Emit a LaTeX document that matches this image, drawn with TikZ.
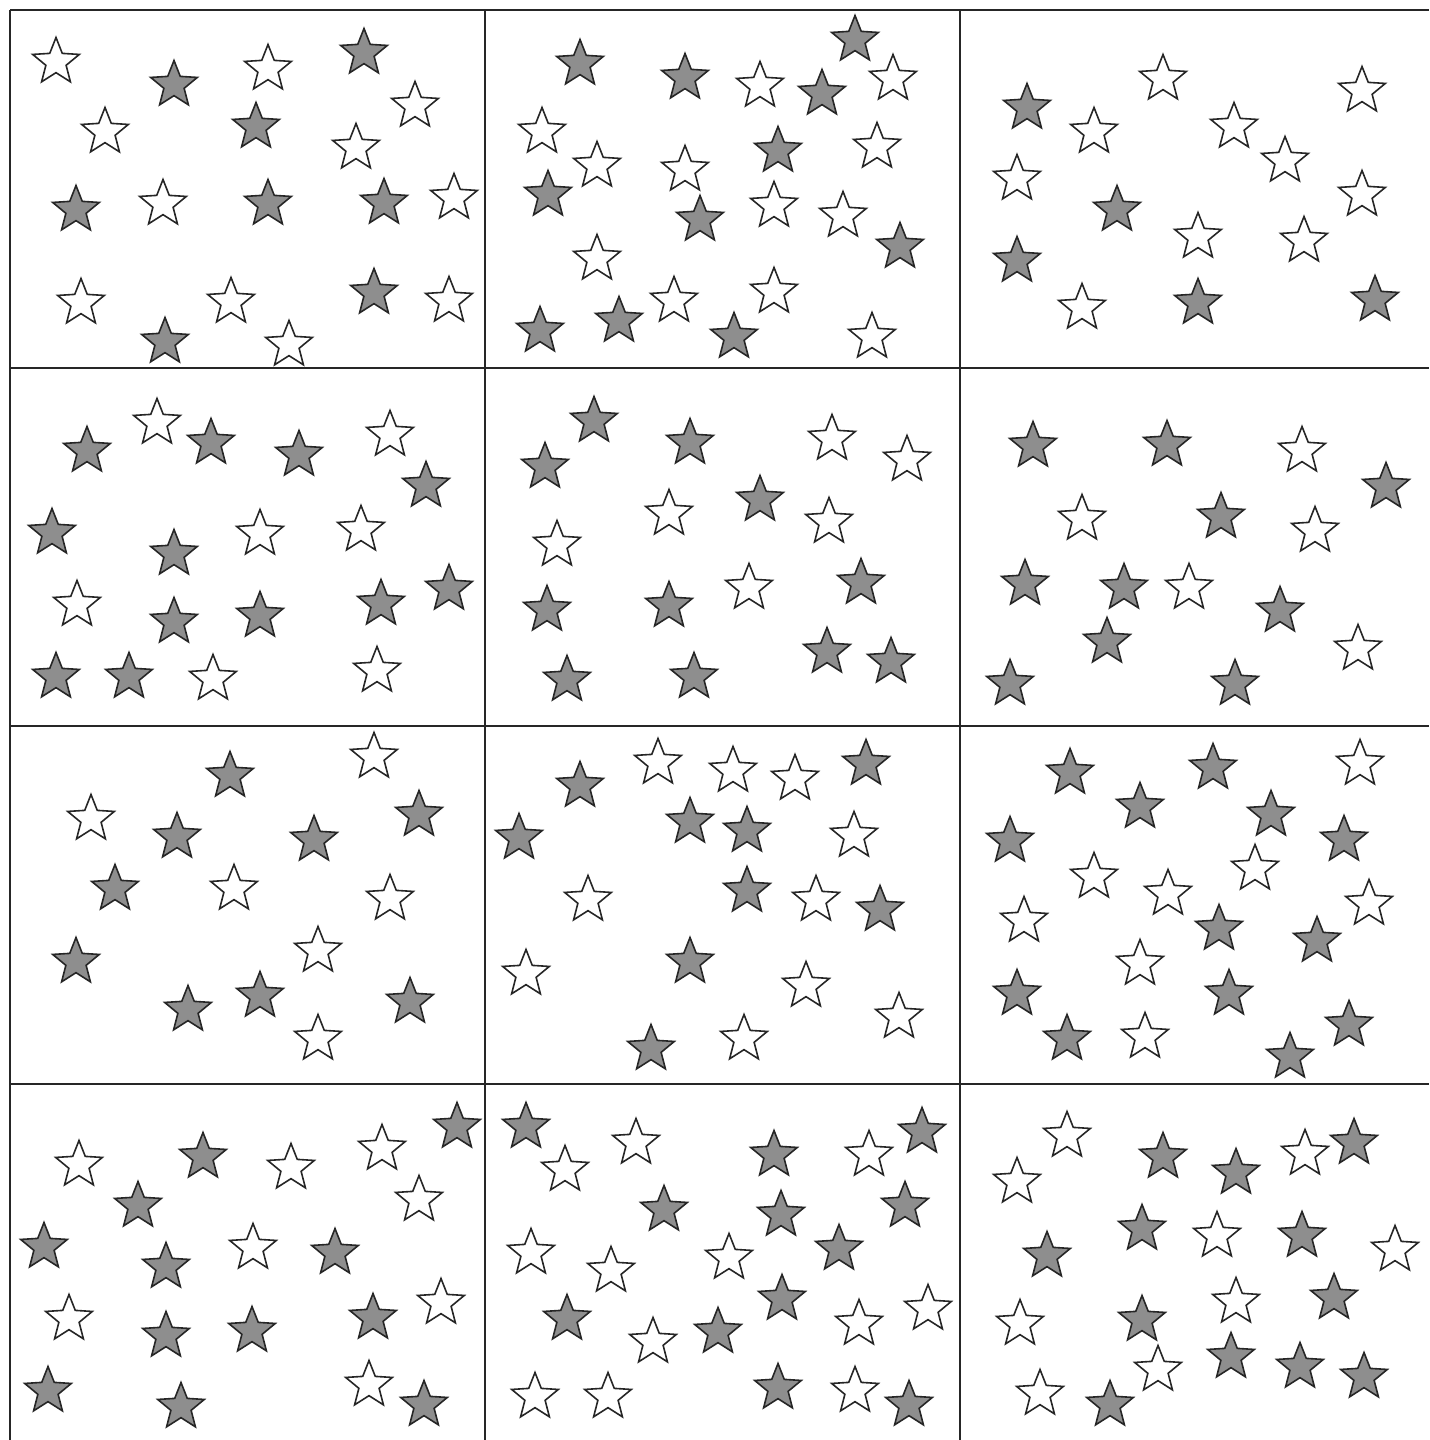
\documentclass[tikz,border=0pt]{standalone}
\usepackage{tikz}
\usepackage{xcolor}
\usetikzlibrary{shapes.geometric}

\definecolor{dk}{RGB}{142,142,142}
\colorlet{lt}{white}

\begin{document}
\begin{tikzpicture}[x=0.025cm, y=-0.025cm,
  pstar/.style={star, star points=5, star point ratio=2.3, minimum size=1.225cm,
    inner sep=0pt, outer sep=0pt, draw=black!85, line width=0.4mm},
  gridline/.style={line width=0.55mm, black!85}]
  \useasboundingbox (0,0) rectangle (1429,1440);
  % grid of twelve panels
  \foreach \y [count=\j] in {10,368,726,1084}
    \draw[gridline] (10,\y) coordinate (h\j) -- (1429,\y);
  \foreach \x [count=\j] in {10,485,960}
    \draw[gridline] (\x,10) coordinate (v\j) -- (\x,1440);
  % row 1
  \foreach \x/\y/\c [count=\i] in {56/62/lt, 174/85/dk, 268/69/lt, 364/53/dk, 415/106/lt,
      105/132/lt, 256/127/dk, 356/148/lt, 76/210/dk, 163/204/lt, 268/204/dk, 384/203/dk,
      454/198/lt, 81/303/lt, 231/302/lt, 374/293/dk, 449/301/lt, 165/342/dk, 289/345/lt}
    \node[pstar, fill=\c] (a\i) at (\x,\y) {};
  \foreach \x/\y/\c [count=\i] in {580/64/dk, 685/78/dk, 760/86/lt, 855/40/dk, 822/94/dk,
      893/79/lt, 542/132/lt, 597/166/lt, 685/170/lt, 778/151/dk, 877/147/lt, 548/195/dk,
      700/220/dk, 774/206/lt, 843/216/lt, 900/247/dk, 597/259/lt, 674/301/lt, 774/292/lt,
      540/331/dk, 619/321/dk, 734/337/dk, 872/337/lt}
    \node[pstar, fill=\c] (b\i) at (\x,\y) {};
  \foreach \x/\y/\c [count=\i] in {1163/79/lt, 1362/91/lt, 1027/108/dk, 1094/132/lt,
      1234/127/lt, 1285/161/lt, 1017/179/lt, 1362/195/lt, 1117/210/dk, 1198/237/lt,
      1304/241/lt, 1017/261/dk, 1082/308/lt, 1198/303/dk, 1375/300/dk}
    \node[pstar, fill=\c] (c\i) at (\x,\y) {};
  % row 2
  \foreach \x/\y/\c [count=\i] in {87/451/dk, 157/423/lt, 211/443/dk, 299/455/dk, 390/435/lt,
      426/486/dk, 52/533/dk, 174/554/dk, 260/534/lt, 361/530/lt, 77/605/lt, 174/622/dk,
      260/616/dk, 381/604/dk, 449/589/dk, 56/677/dk, 129/677/dk, 213/679/lt, 377/671/lt}
    \node[pstar, fill=\c] (d\i) at (\x,\y) {};
  \foreach \x/\y/\c [count=\i] in {594/421/dk, 545/467/dk, 690/443/dk, 832/439/lt, 907/460/lt,
      669/514/lt, 760/500/dk, 829/522/lt, 557/545/lt, 861/583/dk, 749/588/lt, 547/610/dk,
      669/606/dk, 827/652/dk, 891/662/dk, 567/680/dk, 694/677/dk}
    \node[pstar, fill=\c] (e\i) at (\x,\y) {};
  \foreach \x/\y/\c [count=\i] in {1033/446/dk, 1167/445/dk, 1302/451/lt, 1386/487/dk,
      1082/519/lt, 1221/517/dk, 1315/531/lt, 1025/584/dk, 1124/588/dk, 1189/588/lt,
      1280/611/dk, 1107/642/dk, 1358/649/lt, 1010/684/dk, 1235/684/dk}
    \node[pstar, fill=\c] (f\i) at (\x,\y) {};
  % row 3
  \foreach \x/\y/\c [count=\i] in {374/757/lt, 230/776/dk, 91/819/lt, 419/815/dk, 177/837/dk,
      314/840/dk, 115/889/dk, 234/889/lt, 390/899/lt, 318/951/lt, 76/962/dk, 260/996/dk,
      188/1010/dk, 410/1002/dk, 318/1039/lt}
    \node[pstar, fill=\c] (g\i) at (\x,\y) {};
  \foreach \x/\y/\c [count=\i] in {658/763/lt, 733/771/lt, 795/779/lt, 866/764/dk, 580/786/dk,
      519/838/dk, 690/822/dk, 747/831/dk, 854/836/lt, 588/900/lt, 747/891/dk, 816/900/lt,
      880/910/dk, 526/974/lt, 690/962/dk, 806/986/lt, 899/1017/lt, 651/1049/dk, 744/1039/lt}
    \node[pstar, fill=\c] (h\i) at (\x,\y) {};
  \foreach \x/\y/\c [count=\i] in {1070/773/dk, 1213/768/dk, 1360/764/lt, 1140/807/dk,
      1271/815/dk, 1010/841/dk, 1344/840/dk, 1094/877/lt, 1255/869/lt, 1168/894/lt,
      1369/904/lt, 1024/921/lt, 1219/929/dk, 1317/941/dk, 1140/964/lt, 1017/994/dk,
      1229/994/dk, 1067/1039/dk, 1145/1037/lt, 1349/1025/dk, 1290/1057/dk}
    \node[pstar, fill=\c] (i\i) at (\x,\y) {};
  % row 4
  \foreach \x/\y/\c [count=\i] in {457/1127/dk, 79/1165/lt, 203/1157/dk, 291/1168/lt,
      382/1149/lt, 138/1206/dk, 419/1200/lt, 44/1247/dk, 166/1267/dk, 253/1248/lt,
      335/1253/dk, 69/1319/lt, 166/1336/dk, 252/1331/dk, 373/1318/dk, 441/1303/lt,
      48/1391/dk, 181/1407/dk, 369/1385/lt, 424/1405/dk}
    \node[pstar, fill=\c] (j\i) at (\x,\y) {};
  \foreach \x/\y/\c [count=\i] in {526/1127/dk, 565/1170/lt, 636/1143/lt, 774/1155/dk,
      869/1155/lt, 922/1132/dk, 664/1210/dk, 781/1215/dk, 905/1206/dk, 531/1253/lt,
      611/1271/lt, 729/1258/lt, 839/1249/dk, 567/1319/dk, 653/1342/lt, 718/1332/dk,
      782/1299/dk, 859/1324/lt, 928/1309/lt, 535/1397/lt, 608/1397/lt, 778/1388/dk,
      855/1391/lt, 909/1405/dk}
    \node[pstar, fill=\c] (k\i) at (\x,\y) {};
  \foreach \x/\y/\c [count=\i] in {1067/1136/lt, 1017/1182/lt, 1163/1157/dk, 1236/1173/dk,
      1305/1154/lt, 1354/1143/dk, 1142/1229/dk, 1217/1236/lt, 1302/1236/dk, 1395/1250/lt,
      1047/1256/dk, 1236/1302/lt, 1334/1298/dk, 1020/1324/lt, 1142/1320/dk, 1158/1370/lt,
      1231/1357/dk, 1300/1367/dk, 1364/1377/dk, 1040/1394/lt, 1110/1405/dk}
    \node[pstar, fill=\c] (l\i) at (\x,\y) {};
\end{tikzpicture}
\end{document}
